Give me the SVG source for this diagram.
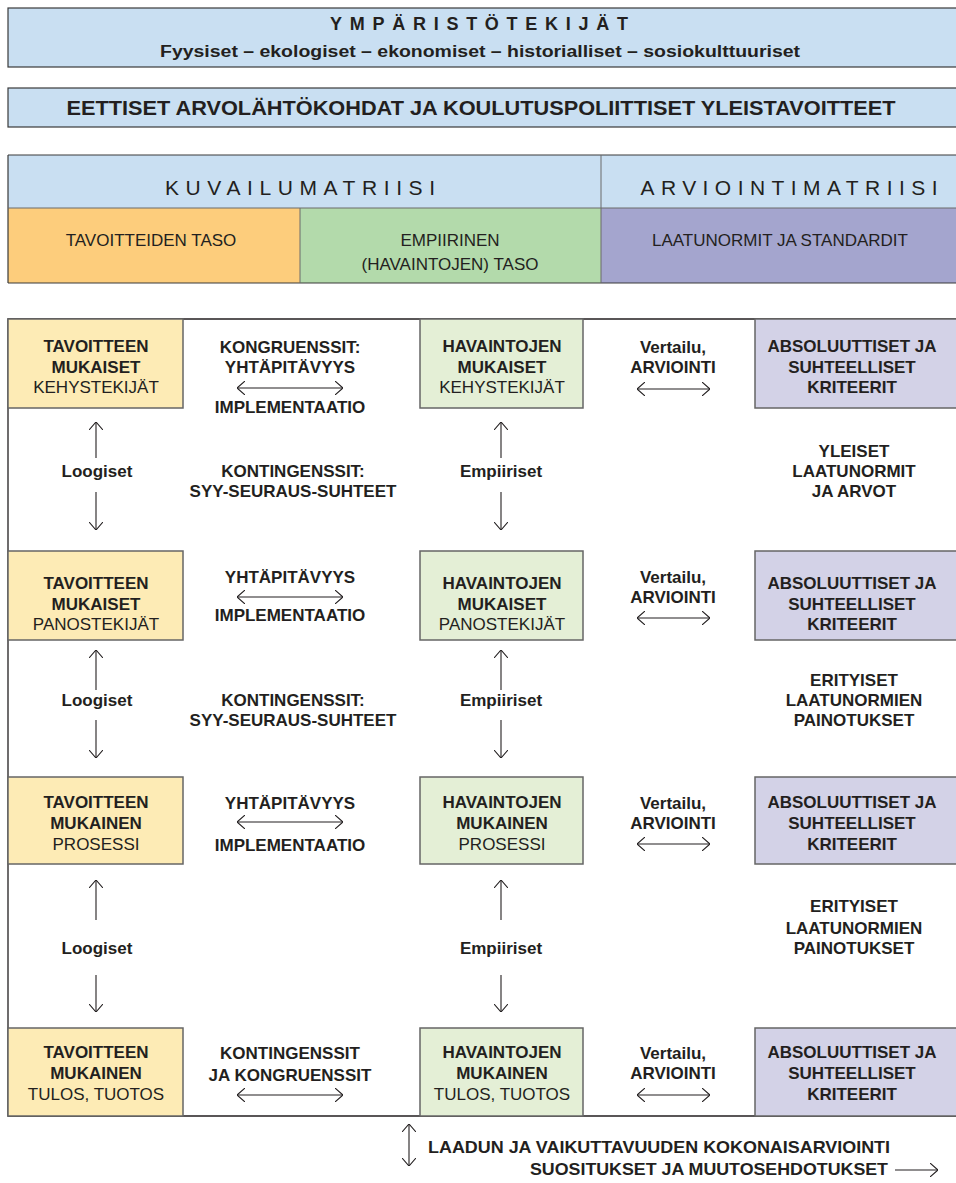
<svg xmlns="http://www.w3.org/2000/svg" width="956" height="1183" viewBox="0 0 956 1183">
<style>
text{font-family:"Liberation Sans",Arial,sans-serif;fill:#231F20;text-anchor:middle}
.b{font-weight:bold;font-size:17px}
.r{font-size:17px}
.hdr{fill:#C9DFF2;stroke:#3a3a3a;stroke-width:1.2}
.yel{fill:#FDEBB5;stroke:#666;stroke-width:1.5}
.grn{fill:#E4EFD6;stroke:#666;stroke-width:1.5}
.pur{fill:#D3D2E7;stroke:#666;stroke-width:1.5}
.ln{stroke:#231F20;stroke-width:1.3;fill:none}
.arr{stroke:#231F20;stroke-width:1.1;fill:none;marker-end:url(#ah);marker-start:url(#ah)}
.up{stroke:#231F20;stroke-width:1.1;fill:none;marker-end:url(#ah)}
</style>
<defs>
<marker id="ah" viewBox="0 0 8 14" refX="8" refY="7" markerWidth="8" markerHeight="14" markerUnits="userSpaceOnUse" orient="auto-start-reverse">
<path d="M0,0 L8,7 L0,14" fill="none" stroke="#231F20" stroke-width="1.1"/>
</marker>
</defs>
<rect width="956" height="1183" fill="#fff"/>

<g id="ymparisto">
<rect class="hdr" x="8" y="8" width="960" height="59"/>
<text x="479" y="30" style="font-weight:bold;font-size:18px" textLength="298" lengthAdjust="spacing">YMPÄRISTÖTEKIJÄT</text>
<text x="480" y="57" style="font-weight:bold;font-size:16px" textLength="640" lengthAdjust="spacingAndGlyphs">Fyysiset – ekologiset – ekonomiset – historialliset – sosiokulttuuriset</text>
</g>
<g id="eettiset">
<rect class="hdr" x="8" y="88" width="960" height="39"/>
<text x="481" y="115" style="font-weight:bold;font-size:20px" textLength="829" lengthAdjust="spacingAndGlyphs">EETTISET ARVOLÄHTÖKOHDAT JA KOULUTUSPOLIITTISET YLEISTAVOITTEET</text>
</g>

<g id="matriisi">
<rect x="8" y="155" width="960" height="53" fill="#C9DFF2"/>
<rect x="8" y="208" width="292" height="75" fill="#FDCD7C"/>
<rect x="300" y="208" width="301" height="75" fill="#B3DAAB"/>
<rect x="601" y="208" width="367" height="75" fill="#A4A5CE"/>
<path d="M8,155 H956 M8,155 V283 M8,283 H956" stroke="#3a3a3a" stroke-width="1.2" fill="none"/>
<path d="M601,155 V283 M8,208 H956 M300,208 V283" stroke="#6a6a6a" stroke-width="1" fill="none"/>
<text x="300" y="195" style="font-size:21px" textLength="270" lengthAdjust="spacing">KUVAILUMATRIISI</text>
<text x="789" y="195" style="font-size:21px" textLength="297" lengthAdjust="spacing">ARVIOINTIMATRIISI</text>
<text class="r" x="151" y="246">TAVOITTEIDEN TASO</text>
<text class="r" x="450" y="246">EMPIIRINEN</text>
<text class="r" x="450" y="270">(HAVAINTOJEN) TASO</text>
<text class="r" x="780" y="246">LAATUNORMIT JA STANDARDIT</text>
</g>

<g id="frame">
<path class="ln" d="M956,319 H8 V1116 H956"/>
</g>

<g id="t1">
<rect class="yel" x="8" y="319" width="175" height="89"/>
<text class="b" x="96" y="352">TAVOITTEEN</text>
<text class="b" x="96" y="373">MUKAISET</text>
<text class="r" x="96" y="393">KEHYSTEKIJÄT</text>
</g>
<g id="h1">
<rect class="grn" x="420" y="319" width="163" height="89"/>
<text class="b" x="502" y="352">HAVAINTOJEN</text>
<text class="b" x="502" y="373">MUKAISET</text>
<text class="r" x="502" y="393">KEHYSTEKIJÄT</text>
</g>
<g id="a1">
<rect class="pur" x="755" y="319" width="213" height="89"/>
<text class="b" x="852" y="352">ABSOLUUTTISET JA</text>
<text class="b" x="852" y="373">SUHTEELLISET</text>
<text class="b" x="852" y="393">KRITEERIT</text>
</g>

<g id="t2">
<rect class="yel" x="8" y="551" width="175" height="89"/>
<text class="b" x="96" y="589">TAVOITTEEN</text>
<text class="b" x="96" y="610">MUKAISET</text>
<text class="r" x="96" y="630">PANOSTEKIJÄT</text>
</g>
<g id="h2">
<rect class="grn" x="420" y="551" width="163" height="89"/>
<text class="b" x="502" y="589">HAVAINTOJEN</text>
<text class="b" x="502" y="610">MUKAISET</text>
<text class="r" x="502" y="630">PANOSTEKIJÄT</text>
</g>
<g id="a2">
<rect class="pur" x="755" y="551" width="213" height="89"/>
<text class="b" x="852" y="589">ABSOLUUTTISET JA</text>
<text class="b" x="852" y="610">SUHTEELLISET</text>
<text class="b" x="852" y="630">KRITEERIT</text>
</g>

<g id="t3">
<rect class="yel" x="8" y="777" width="175" height="87"/>
<text class="b" x="96" y="808">TAVOITTEEN</text>
<text class="b" x="96" y="829">MUKAINEN</text>
<text class="r" x="96" y="850">PROSESSI</text>
</g>
<g id="h3">
<rect class="grn" x="420" y="777" width="163" height="87"/>
<text class="b" x="502" y="808">HAVAINTOJEN</text>
<text class="b" x="502" y="829">MUKAINEN</text>
<text class="r" x="502" y="850">PROSESSI</text>
</g>
<g id="a3">
<rect class="pur" x="755" y="777" width="213" height="87"/>
<text class="b" x="852" y="808">ABSOLUUTTISET JA</text>
<text class="b" x="852" y="829">SUHTEELLISET</text>
<text class="b" x="852" y="850">KRITEERIT</text>
</g>

<g id="t4">
<rect class="yel" x="8" y="1028" width="175" height="88"/>
<text class="b" x="96" y="1058">TAVOITTEEN</text>
<text class="b" x="96" y="1079">MUKAINEN</text>
<text class="r" x="96" y="1100">TULOS, TUOTOS</text>
</g>
<g id="h4">
<rect class="grn" x="420" y="1028" width="163" height="88"/>
<text class="b" x="502" y="1058">HAVAINTOJEN</text>
<text class="b" x="502" y="1079">MUKAINEN</text>
<text class="r" x="502" y="1100">TULOS, TUOTOS</text>
</g>
<g id="a4">
<rect class="pur" x="755" y="1028" width="213" height="88"/>
<text class="b" x="852" y="1058">ABSOLUUTTISET JA</text>
<text class="b" x="852" y="1079">SUHTEELLISET</text>
<text class="b" x="852" y="1100">KRITEERIT</text>
</g>

<g id="connectors">
<path class="arr" d="M237,388 H343"/>
<path class="arr" d="M637,389 H710"/>
<path class="arr" d="M237,597 H343"/>
<path class="arr" d="M637,618 H710"/>
<path class="arr" d="M237,822 H343"/>
<path class="arr" d="M637,844 H710"/>
<path class="arr" d="M237,1095 H343"/>
<path class="arr" d="M637,1095 H710"/>
<path class="up" d="M96,458 V422"/>
<path class="up" d="M96,492 V530"/>
<path class="up" d="M501,458 V422"/>
<path class="up" d="M501,492 V530"/>
<path class="up" d="M96,690 V650"/>
<path class="up" d="M96,720 V758"/>
<path class="up" d="M501,690 V650"/>
<path class="up" d="M501,720 V758"/>
<path class="up" d="M96,920 V880"/>
<path class="up" d="M96,975 V1012"/>
<path class="up" d="M501,920 V880"/>
<path class="up" d="M501,975 V1012"/>
<path class="arr" d="M409,1124 V1166"/>
<path class="up" d="M895,1170 H938"/>
</g>

<g id="labels">
<text class="b" x="290" y="353">KONGRUENSSIT:</text>
<text class="b" x="290" y="373">YHTÄPITÄVYYS</text>
<text class="b" x="290" y="413">IMPLEMENTAATIO</text>
<text class="b" x="673" y="353">Vertailu,</text>
<text class="b" x="673" y="373">ARVIOINTI</text>

<text class="b" x="97" y="477">Loogiset</text>
<text class="b" x="293" y="477">KONTINGENSSIT:</text>
<text class="b" x="293" y="497">SYY-SEURAUS-SUHTEET</text>
<text class="b" x="501" y="477">Empiiriset</text>
<text class="b" x="854" y="457">YLEISET</text>
<text class="b" x="854" y="477">LAATUNORMIT</text>
<text class="b" x="854" y="497">JA ARVOT</text>

<text class="b" x="290" y="583">YHTÄPITÄVYYS</text>
<text class="b" x="290" y="621">IMPLEMENTAATIO</text>
<text class="b" x="673" y="583">Vertailu,</text>
<text class="b" x="673" y="603">ARVIOINTI</text>

<text class="b" x="97" y="706">Loogiset</text>
<text class="b" x="293" y="706">KONTINGENSSIT:</text>
<text class="b" x="293" y="726">SYY-SEURAUS-SUHTEET</text>
<text class="b" x="501" y="706">Empiiriset</text>
<text class="b" x="854" y="686">ERITYISET</text>
<text class="b" x="854" y="706">LAATUNORMIEN</text>
<text class="b" x="854" y="726">PAINOTUKSET</text>

<text class="b" x="290" y="809">YHTÄPITÄVYYS</text>
<text class="b" x="290" y="851">IMPLEMENTAATIO</text>
<text class="b" x="673" y="809">Vertailu,</text>
<text class="b" x="673" y="829">ARVIOINTI</text>

<text class="b" x="97" y="954">Loogiset</text>
<text class="b" x="501" y="954">Empiiriset</text>
<text class="b" x="854" y="912">ERITYISET</text>
<text class="b" x="854" y="934">LAATUNORMIEN</text>
<text class="b" x="854" y="954">PAINOTUKSET</text>

<text class="b" x="290" y="1059">KONTINGENSSIT</text>
<text class="b" x="290" y="1081">JA KONGRUENSSIT</text>
<text class="b" x="673" y="1059">Vertailu,</text>
<text class="b" x="673" y="1079">ARVIOINTI</text>

<text class="b" x="659" y="1153" textLength="462" lengthAdjust="spacingAndGlyphs">LAADUN JA VAIKUTTAVUUDEN KOKONAISARVIOINTI</text>
<text class="b" x="709" y="1175" textLength="358" lengthAdjust="spacingAndGlyphs">SUOSITUKSET JA MUUTOSEHDOTUKSET</text>
</g>
</svg>
